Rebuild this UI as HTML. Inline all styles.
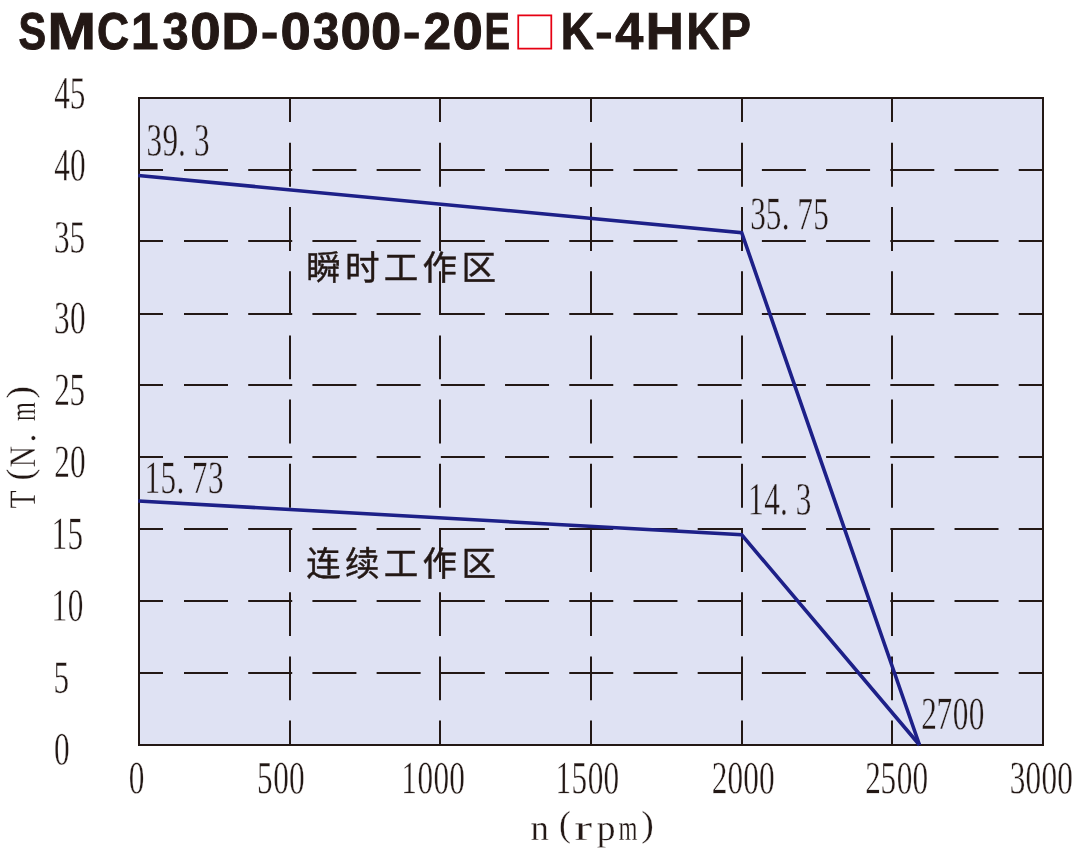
<!DOCTYPE html>
<html lang="zh-CN">
<head>
<meta charset="utf-8">
<title>SMC130D-0300-20E□K-4HKP</title>
<style>
html,body{margin:0;padding:0;background:#fff;}
body{width:1088px;height:849px;overflow:hidden;}
svg{display:block;}
text{white-space:pre;text-rendering:geometricPrecision;}
</style>
</head>
<body>
<svg width="1088" height="849" viewBox="0 0 1088 849">
<rect width="1088" height="849" fill="#fff"/>
<rect x="139" y="98" width="904" height="647" fill="#dfe2f3" stroke="none"/>
<g stroke="#231815" stroke-width="2" fill="none">
<path stroke-dasharray="24 21 44 20.21 44 20.21 44 20.21 44 20.21 44 20.21 44 20.21 44 20.21 44 20.21 44 20.21 44 20.21 44 20.21 44 20.21 44 20.21 44 20.21" d="M139 170H1043 M139 241H1043 M139 314H1043 M139 385H1043 M139 457H1043 M139 529H1043 M139 601H1043 M139 673H1043"/>
<path stroke-dasharray="24 20.8 43.9 20.3 43.9 20.3 43.9 20.3 43.9 20.3 43.9 20.3 43.9 20.3 43.9 20.3 43.9 20.3 43.9 20.3 43.9 20.3" d="M290 98V745 M440 98V745 M591 98V745 M742 98V745 M892 98V745"/>
<rect x="139" y="98" width="904" height="647"/>
</g>
<g font-family="'Liberation Sans', 'Noto Sans CJK SC', sans-serif" font-size="34.5" font-weight="400" fill="#231815" stroke="#231815" stroke-width="0.45" letter-spacing="4.3">
<text x="306.2" y="280.4">瞬时工作区</text>
<text x="306.2" y="575.6">连续工作区</text>
</g>
<g stroke="#1d2088" stroke-width="3.6" fill="none" stroke-linejoin="miter" stroke-linecap="butt">
<path d="M138.3 175.5L741.7 232.7L919.5 745"/>
<path d="M138.3 501L741.7 534.8L919.5 745"/>
</g>
<g font-family="'Liberation Serif', serif" fill="#231815" stroke="#fff" stroke-width="0.4" stroke-linejoin="round">
<text transform="translate(54.131 108.55) rotate(0.05) scale(0.676 1)" font-size="46.2" x="0 23.068" y="0">45</text>
<text transform="translate(54.131 180.5) rotate(0.05) scale(0.676 1)" font-size="46.2" x="0 23.507" y="0">40</text>
<text transform="translate(53.955 252.45) rotate(0.05) scale(0.676 1)" font-size="46.2" x="0 23.18" y="0">35</text>
<text transform="translate(53.955 333.2) rotate(0.05) scale(0.676 1)" font-size="46.2" x="0 23.62" y="0">30</text>
<text transform="translate(54.268 405.1) rotate(0.05) scale(0.676 1)" font-size="46.2" x="0 22.718" y="0">25</text>
<text transform="translate(54.268 477.05) rotate(0.05) scale(0.676 1)" font-size="46.2" x="0 23.158" y="0">20</text>
<text transform="translate(51.458 548.9) rotate(0.05) scale(0.676 1)" font-size="46.2" x="0 23.62" y="0">15</text>
<text transform="translate(51.458 620.85) rotate(0.05) scale(0.676 1)" font-size="46.2" x="0 24.06" y="0">10</text>
<text transform="translate(53.395 692.7) rotate(0.05) scale(0.676 1)" font-size="46.2" x="0" y="0">5</text>
<text transform="translate(53.942 764.6) rotate(0.05) scale(0.676 1)" font-size="46.2" x="0" y="0">0</text>
<text transform="translate(128.742 793.35) rotate(0.05) scale(0.676 1)" font-size="46.2" x="0" y="0">0</text>
<text transform="translate(257.045 793.35) rotate(0.05) scale(0.676 1)" font-size="46.2" x="0 23.857 47.274" y="0">500</text>
<text transform="translate(401.308 793.35) rotate(0.05) scale(0.676 1)" font-size="46.2" x="0 24.06 47.477 70.894" y="0">1000</text>
<text transform="translate(555.608 793.35) rotate(0.05) scale(0.676 1)" font-size="46.2" x="0 23.62 47.477 70.894" y="0">1500</text>
<text transform="translate(711.768 793.35) rotate(0.05) scale(0.676 1)" font-size="46.2" x="0 23.158 46.575 69.992" y="0">2000</text>
<text transform="translate(865.168 793.35) rotate(0.05) scale(0.676 1)" font-size="46.2" x="0 22.718 46.575 69.992" y="0">2500</text>
<text transform="translate(1009.655 793.35) rotate(0.05) scale(0.676 1)" font-size="46.2" x="0 23.62 47.037 70.455" y="0">3000</text>
<text transform="translate(146.405 155.4) rotate(0.05) scale(0.676 1)" font-size="46.2" x="0 23.823 46.895 70.251" y="0" stroke="#dfe2f3">39.3</text>
<text transform="translate(750.155 229.1) rotate(0.05) scale(0.676 1)" font-size="46.2" x="0 23.18 46.895 69.597 93.432" y="0" stroke="#dfe2f3">35.75</text>
<text transform="translate(144.458 493) rotate(0.05) scale(0.676 1)" font-size="46.2" x="0 23.62 47.335 70.037 94.109" y="0" stroke="#dfe2f3">15.73</text>
<text transform="translate(748.058 514.5) rotate(0.05) scale(0.676 1)" font-size="46.2" x="0 23.97 47.335 70.691" y="0" stroke="#dfe2f3">14.3</text>
<text transform="translate(921.368 729.1) rotate(0.05) scale(0.676 1)" font-size="46.2" x="0 22.301 46.575 69.992" y="0" stroke="#dfe2f3">2700</text>
<g transform="translate(35.3 0) rotate(-90)"><text font-size="37.4" aria-label="T(N.m)" stroke-width="0.3"><tspan x="-508.453" y="0" textLength="18.062" lengthAdjust="spacingAndGlyphs">T</tspan><tspan x="-480.415" y="-3.7" textLength="11.912" lengthAdjust="spacingAndGlyphs">(</tspan><tspan x="-467.261" y="0" textLength="21.151" lengthAdjust="spacingAndGlyphs">N</tspan><tspan x="-442.767" y="0" textLength="9.533" lengthAdjust="spacingAndGlyphs">.</tspan><tspan x="-421.004" y="0" textLength="18.778" lengthAdjust="spacingAndGlyphs">m</tspan><tspan x="-398.813" y="-3.7" textLength="12.982" lengthAdjust="spacingAndGlyphs">)</tspan></text></g>
<text font-size="36.3" aria-label="n(rpm)" stroke-width="0.3"><tspan x="530.603" y="840.4" textLength="18.406" lengthAdjust="spacingAndGlyphs">n</tspan><tspan x="559.079" y="836.1" textLength="11.923" lengthAdjust="spacingAndGlyphs">(</tspan><tspan x="574.294" y="840.4" textLength="18.004" lengthAdjust="spacingAndGlyphs">r</tspan><tspan x="596.739" y="840.4" textLength="18.783" lengthAdjust="spacingAndGlyphs">p</tspan><tspan x="618.386" y="840.4" textLength="18.996" lengthAdjust="spacingAndGlyphs">m</tspan><tspan x="641.125" y="836.1" textLength="12.593" lengthAdjust="spacingAndGlyphs">)</tspan></text>
</g>
<g font-family="'Liberation Sans', 'Noto Sans CJK SC', sans-serif" font-weight="bold" fill="#231815" stroke="#231815" stroke-width="1" stroke-linejoin="miter">
<text font-size="51.8" aria-label="SMC130D-0300-20E"><tspan x="18.507" y="48.95" textLength="27.61" lengthAdjust="spacingAndGlyphs">S</tspan><tspan x="47.57" y="48.95" textLength="48.46" lengthAdjust="spacingAndGlyphs">M</tspan><tspan x="97.007" y="48.95" textLength="32.079" lengthAdjust="spacingAndGlyphs">C</tspan><tspan x="130.97" y="48.95" textLength="27.427" lengthAdjust="spacingAndGlyphs">1</tspan><tspan x="162.577" y="48.95" textLength="26.064" lengthAdjust="spacingAndGlyphs">3</tspan><tspan x="190.263" y="48.95" textLength="30.455" lengthAdjust="spacingAndGlyphs">0</tspan><tspan x="221.55" y="48.95" textLength="37.217" lengthAdjust="spacingAndGlyphs">D</tspan><tspan x="260.2" y="48.95" textLength="18.755" lengthAdjust="spacingAndGlyphs" stroke-width="0">-</tspan><tspan x="280.475" y="48.95" textLength="30.23" lengthAdjust="spacingAndGlyphs">0</tspan><tspan x="312.972" y="48.95" textLength="26.28" lengthAdjust="spacingAndGlyphs">3</tspan><tspan x="340.563" y="48.95" textLength="30.455" lengthAdjust="spacingAndGlyphs">0</tspan><tspan x="370.875" y="48.95" textLength="30.23" lengthAdjust="spacingAndGlyphs">0</tspan><tspan x="402.185" y="48.95" textLength="18.886" lengthAdjust="spacingAndGlyphs" stroke-width="0">-</tspan><tspan x="423.561" y="48.95" textLength="27.544" lengthAdjust="spacingAndGlyphs">2</tspan><tspan x="452.569" y="48.95" textLength="30.342" lengthAdjust="spacingAndGlyphs">0</tspan><tspan x="484.52" y="48.95" textLength="25.4" lengthAdjust="spacingAndGlyphs">E</tspan></text>
<text transform="translate(512.95 48.55) rotate(0.05)" font-family="'Noto Sans CJK SC', sans-serif" font-weight="500" font-size="43.5" fill="#e60012" stroke="none">□</text>
<text font-size="51.8" aria-label="K-4HKP"><tspan x="560.802" y="48.95" textLength="32.781" lengthAdjust="spacingAndGlyphs">K</tspan><tspan x="594.5" y="48.95" textLength="18.755" lengthAdjust="spacingAndGlyphs" stroke-width="0">-</tspan><tspan x="615.223" y="48.95" textLength="28.061" lengthAdjust="spacingAndGlyphs">4</tspan><tspan x="645.883" y="48.95" textLength="38.059" lengthAdjust="spacingAndGlyphs">H</tspan><tspan x="686.41" y="48.95" textLength="32.673" lengthAdjust="spacingAndGlyphs">K</tspan><tspan x="720.369" y="48.95" textLength="30.659" lengthAdjust="spacingAndGlyphs">P</tspan></text>
</g>
</svg>
</body>
</html>
